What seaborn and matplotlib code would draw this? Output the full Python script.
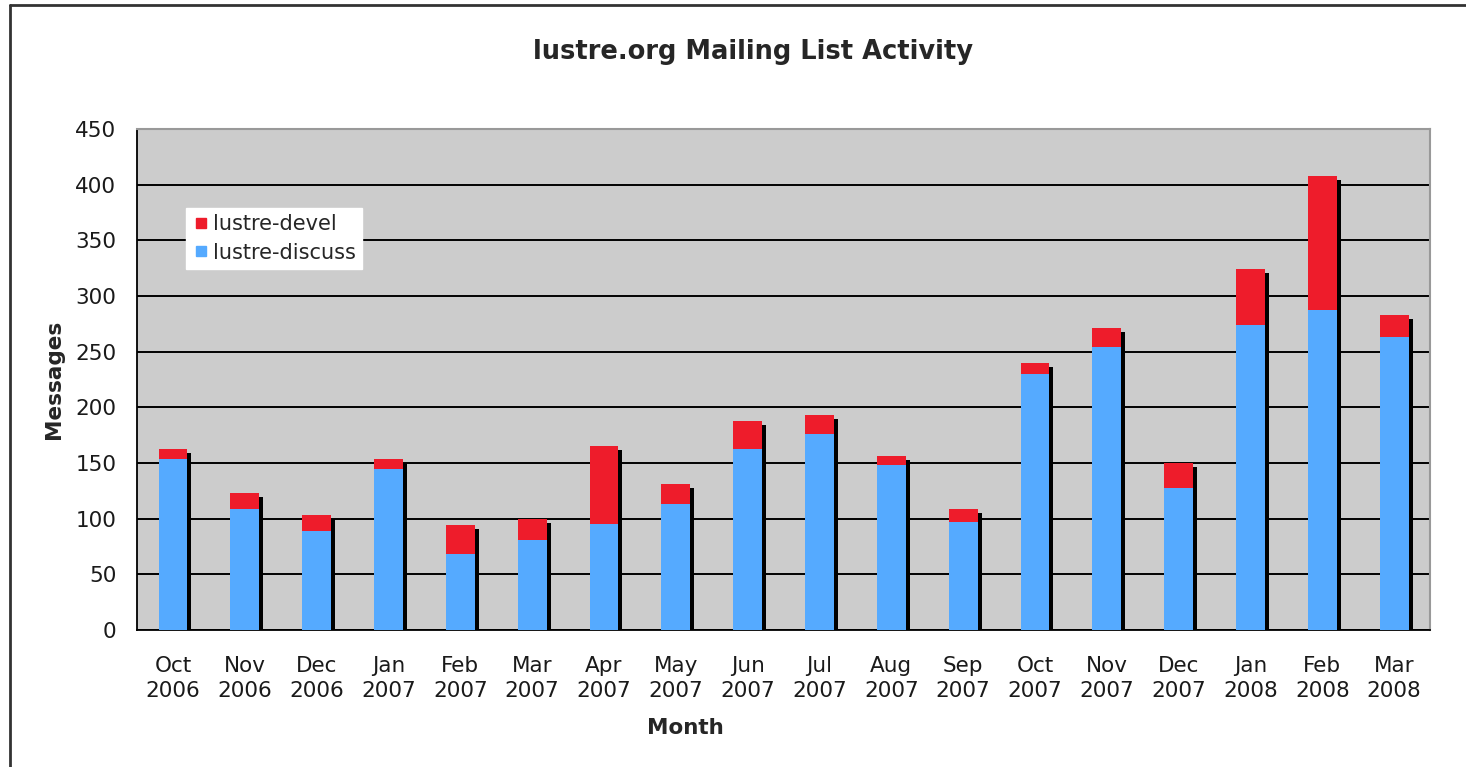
import pandas as pd
import seaborn as sns
import matplotlib.pyplot as plt
from matplotlib.lines import Line2D
from matplotlib.transforms import ScaledTranslation

months = ['Oct\n2006', 'Nov\n2006', 'Dec\n2006', 'Jan\n2007', 'Feb\n2007', 'Mar\n2007',
          'Apr\n2007', 'May\n2007', 'Jun\n2007', 'Jul\n2007', 'Aug\n2007', 'Sep\n2007',
          'Oct\n2007', 'Nov\n2007', 'Dec\n2007', 'Jan\n2008', 'Feb\n2008', 'Mar\n2008']
discuss = [154, 109, 89, 145, 68, 81, 95, 113, 163, 176, 148, 97, 230, 254, 128, 274, 287, 263]
devel = [9, 14, 14, 9, 26, 19, 70, 18, 25, 17, 8, 12, 10, 17, 22, 50, 121, 20]
yticks = [0, 50, 100, 150, 200, 250, 300, 350, 400, 450]

blue = '#55AAFF'
red = '#EE1C2B'

df = pd.DataFrame({'month': months, 'discuss': discuss, 'devel': devel})
df['total'] = df['discuss'] + df['devel']

sns.set_style('white')
plt.rcParams['font.family'] = ['DejaVu Sans']

fig = plt.figure(figsize=(14.66, 7.67), dpi=100)
ax = fig.add_axes([0.0935, 0.1786, 0.882, 0.6532])
ax.set_facecolor('#CCCCCC')

# drop shadow behind each stacked bar
sns.barplot(data=df, x='month', y='total', color='black', width=0.4, saturation=1,
            linewidth=0, ax=ax)
shift = ScaledTranslation(4 / 100, -4 / 100, fig.dpi_scale_trans)
for p in ax.patches:
    p.set_transform(ax.transData + shift)
    p.set_zorder(2)
n_shadow = len(ax.patches)

sns.barplot(data=df, x='month', y='total', color=red, width=0.4, saturation=1,
            linewidth=0, ax=ax)
sns.barplot(data=df, x='month', y='discuss', color=blue, width=0.4, saturation=1,
            linewidth=0, ax=ax)
for p in ax.patches[n_shadow:]:
    p.set_zorder(3)

ax.set_ylim(0, 450)
ax.set_xlim(-0.5, len(months) - 0.5)
ax.set_yticks(yticks)
ax.yaxis.grid(True, color='black', linewidth=1.4)
ax.set_axisbelow(True)

ax.set_xticks(range(len(months)))
ax.set_xticklabels(months, fontsize=15.5, color='#1a1a1a', linespacing=1.3)
ax.set_xticks([i - 0.5 for i in range(len(months) + 1)], minor=True)
ax.tick_params(axis='x', which='major', length=0, pad=18.5)
ax.tick_params(axis='x', which='minor', length=4.5, width=1.2, color='black', direction='out')
ax.tick_params(axis='y', length=5, width=1.2, color='black', direction='out', labelsize=15.5,
               labelcolor='#1a1a1a', pad=10)

for side in ['left', 'bottom']:
    ax.spines[side].set_color('black')
    ax.spines[side].set_linewidth(1.3)
for side in ['top', 'right']:
    ax.spines[side].set_color('#999999')
    ax.spines[side].set_linewidth(1.5)

ax.set_xlabel('Month', fontsize=15.5, fontweight='bold', labelpad=11.5)
ax.xaxis.set_label_coords(0.424, -0.176)
ax.set_ylabel('Messages', fontsize=15.5, fontweight='bold', labelpad=8)
fig.text(753 / 1466, 1 - 52 / 767, 'lustre.org Mailing List Activity', fontsize=18.5,
         fontweight='bold', ha='center', va='center')

handles = [Line2D([], [], marker='s', linestyle='', markersize=7, color=red),
           Line2D([], [], marker='s', linestyle='', markersize=7, color=blue)]
leg = ax.legend(handles, ['lustre-devel', 'lustre-discuss'], loc='upper left',
                bbox_to_anchor=(0.038, 0.842), fontsize=15, frameon=True, fancybox=False,
                borderpad=0.3, handletextpad=0.2, labelspacing=0.4, handlelength=0.8,
                borderaxespad=0)
leg.get_frame().set_facecolor('white')
leg.get_frame().set_edgecolor('white')
leg.get_frame().set_alpha(1)
leg.set_zorder(5)

# outer frame of the picture (top and left edges)
fig.add_artist(Line2D([10 / 1466, 1.0], [1 - 5 / 767, 1 - 5 / 767], color='#333333', linewidth=2))
fig.add_artist(Line2D([10 / 1466, 10 / 1466], [0, 1 - 5 / 767], color='#333333', linewidth=2))

fig.savefig('out.png', dpi=100)
